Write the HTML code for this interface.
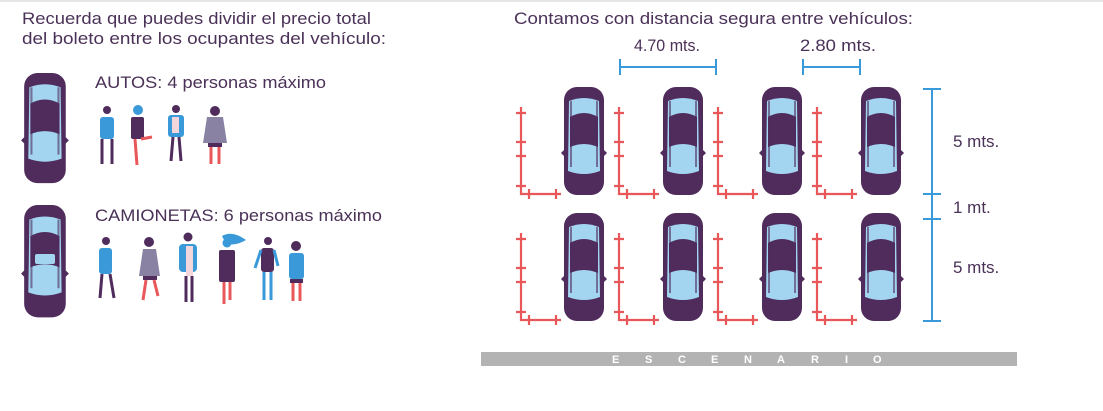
<!DOCTYPE html>
<html><head><meta charset="utf-8"><style>
html,body{margin:0;padding:0;background:#fff;width:1103px;height:411px;overflow:hidden}
svg{display:block}
text{font-family:"Liberation Sans Narrow","Liberation Sans",sans-serif;fill:#4a3157}
</style></head><body>
<svg width="1103" height="411" viewBox="0 0 1103 411" xmlns="http://www.w3.org/2000/svg">
<defs>
<g id="car">
  <path d="M1,66 L5,62 L5,70 Z M47,66 L43,62 L43,70 Z" fill="#4f2c5c"/>
  <rect x="4" y="0" width="40" height="108" rx="13" fill="#4f2c5c"/>
  <path d="M9,14 Q24,8 39,14 L40,84 Q24,90 8,84 Z" fill="#a3d5f0"/>
  <path d="M10,30 Q24,22 38,30 L38,60 Q24,54 10,60 Z" fill="#4f2c5c"/>
  <rect x="10" y="14" width="2" height="66" fill="#4f2c5c" opacity=".6"/>
  <rect x="36" y="14" width="2" height="66" fill="#4f2c5c" opacity=".6"/>
</g>
<g id="mark" stroke="#e8585a" stroke-width="2.2" fill="none">
  <path d="M0,0 V87 H40"/>
  <path d="M-5,6 H5 M-5,35 H5 M-5,49 H5 M-5,79 H5 M8,82 V92 M35,82 V92"/>
</g>
</defs>
<line x1="0" y1="1" x2="1103" y2="1" stroke="#e6e6e6" stroke-width="2"/>
<text x="22" y="24" font-size="17" textLength="349" lengthAdjust="spacingAndGlyphs">Recuerda que puedes dividir el precio total</text>
<text x="22" y="44" font-size="17" textLength="364" lengthAdjust="spacingAndGlyphs">del boleto entre los ocupantes del vehículo:</text>
<text x="514" y="24" font-size="17" textLength="399" lengthAdjust="spacingAndGlyphs">Contamos con distancia segura entre vehículos:</text>
<text x="634" y="51" font-size="17" textLength="66" lengthAdjust="spacingAndGlyphs">4.70 mts.</text>
<text x="800" y="51" font-size="17" textLength="76" lengthAdjust="spacingAndGlyphs">2.80 mts.</text>

<!-- left cars -->
<use href="#car" transform="translate(20,73) scale(1.04,1.02)"/>
<use href="#car" transform="translate(20,205) scale(1.04,1.04)"/>
<rect x="35" y="254" width="20" height="10" rx="2" fill="#a3d5f0"/>
<text x="95" y="88" font-size="17" textLength="231" lengthAdjust="spacingAndGlyphs">AUTOS: 4 personas máximo</text>
<text x="95" y="221" font-size="17" textLength="287" lengthAdjust="spacingAndGlyphs">CAMIONETAS: 6 personas máximo</text>

<!-- people autos -->
<g>
 <circle cx="107" cy="110" r="4" fill="#4f2c5c"/><rect x="100" y="117" width="14" height="22" rx="3" fill="#3a9ad9"/><path d="M102,139 V164 M112,139 V164" stroke="#4f2c5c" stroke-width="3"/>
 <circle cx="138" cy="110" r="5" fill="#3a9ad9"/><rect x="131" y="117" width="13" height="22" rx="2" fill="#4f2c5c"/><path d="M135,139 L137,165 M141,139 L152,137" stroke="#e8585a" stroke-width="3"/>
 <circle cx="176" cy="109" r="4" fill="#4f2c5c"/><rect x="168" y="115" width="16" height="22" rx="3" fill="#3a9ad9"/><rect x="172" y="117" width="7" height="16" fill="#f2d6dc"/><path d="M173,137 L171,161 M179,137 L181,161" stroke="#4f2c5c" stroke-width="3"/>
 <circle cx="215" cy="111" r="5" fill="#4f2c5c"/><path d="M207,117 H223 L227,143 H203 Z" fill="#8a82a3"/><rect x="208" y="143" width="14" height="4" fill="#4f2c5c"/><path d="M211,147 V164 M219,147 V164" stroke="#e8585a" stroke-width="3"/>
</g>
<!-- people camionetas -->
<g>
 <circle cx="106" cy="241" r="4" fill="#4f2c5c"/><rect x="99" y="248" width="13" height="26" rx="3" fill="#3a9ad9"/><path d="M102,274 L100,298 M110,274 L114,298" stroke="#4f2c5c" stroke-width="3"/>
 <circle cx="149" cy="242" r="5" fill="#4f2c5c"/><path d="M143,249 H156 L160,276 H139 Z" fill="#8a82a3"/><rect x="143" y="276" width="14" height="4" fill="#4f2c5c"/><path d="M146,280 L143,300 M154,280 L158,296" stroke="#e8585a" stroke-width="3"/>
 <circle cx="188" cy="237" r="4.5" fill="#4f2c5c"/><rect x="179" y="244" width="18" height="28" rx="4" fill="#3a9ad9"/><rect x="186" y="246" width="7" height="30" fill="#f2d6dc"/><path d="M186,276 V302 M192,276 V302" stroke="#4f2c5c" stroke-width="3"/>
 <path d="M222,236 Q232,230 246,240 Q236,246 226,244 Z" fill="#3a9ad9"/><circle cx="227" cy="243" r="4.5" fill="#3a9ad9"/><rect x="219" y="250" width="16" height="32" rx="2" fill="#4f2c5c"/><path d="M224,282 V304 M230,282 V300" stroke="#e8585a" stroke-width="3"/>
 <circle cx="268" cy="241" r="4" fill="#4f2c5c"/><rect x="261" y="248" width="13" height="24" rx="3" fill="#4f2c5c"/><path d="M261,250 L255,268 M274,250 L278,266" stroke="#3a9ad9" stroke-width="3"/><path d="M264,272 V300 M271,272 V300" stroke="#3a9ad9" stroke-width="3"/>
 <circle cx="296" cy="246" r="5" fill="#4f2c5c"/><rect x="289" y="253" width="15" height="26" rx="3" fill="#3a9ad9"/><rect x="290" y="279" width="13" height="4" fill="#4f2c5c"/><path d="M293,283 V301 M300,283 V301" stroke="#e8585a" stroke-width="3"/>
</g>

<!-- right: cars and markers -->
<g>
 <use href="#mark" transform="translate(521,107)"/>
 <use href="#mark" transform="translate(619,107)"/>
 <use href="#mark" transform="translate(718,107)"/>
 <use href="#mark" transform="translate(817,107)"/>
 <use href="#mark" transform="translate(521,233)"/>
 <use href="#mark" transform="translate(619,233)"/>
 <use href="#mark" transform="translate(718,233)"/>
 <use href="#mark" transform="translate(817,233)"/>
 <use href="#car" transform="translate(560,87)"/>
 <use href="#car" transform="translate(659,87)"/>
 <use href="#car" transform="translate(758,87)"/>
 <use href="#car" transform="translate(857,87)"/>
 <use href="#car" transform="translate(560,213)"/>
 <use href="#car" transform="translate(659,213)"/>
 <use href="#car" transform="translate(758,213)"/>
 <use href="#car" transform="translate(857,213)"/>
</g>
<g stroke="#3a9ad9" stroke-width="2" fill="none">
 <path d="M620,67 H716 M620,59 V75 M716,59 V75"/>
 <path d="M803,67 H860 M803,59 V75 M860,59 V75"/>
 <path d="M932,89 V321 M923,89 H941 M923,194 H941 M923,219 H941 M923,321 H941"/>
</g>
<text x="953" y="147" font-size="17">5 mts.</text>
<text x="953" y="213" font-size="17">1 mt.</text>
<text x="953" y="273" font-size="17">5 mts.</text>

<rect x="481" y="352" width="536" height="14" fill="#b3b3b3"/>
<g font-size="11" font-weight="bold" style="fill:#fff">
 <text x="612" y="363" style="fill:#fff">E</text><text x="645" y="363" style="fill:#fff">S</text><text x="678" y="363" style="fill:#fff">C</text><text x="711" y="363" style="fill:#fff">E</text><text x="744" y="363" style="fill:#fff">N</text><text x="777" y="363" style="fill:#fff">A</text><text x="811" y="363" style="fill:#fff">R</text><text x="845" y="363" style="fill:#fff">I</text><text x="873" y="363" style="fill:#fff">O</text>
</g>
</svg>
</body></html>
